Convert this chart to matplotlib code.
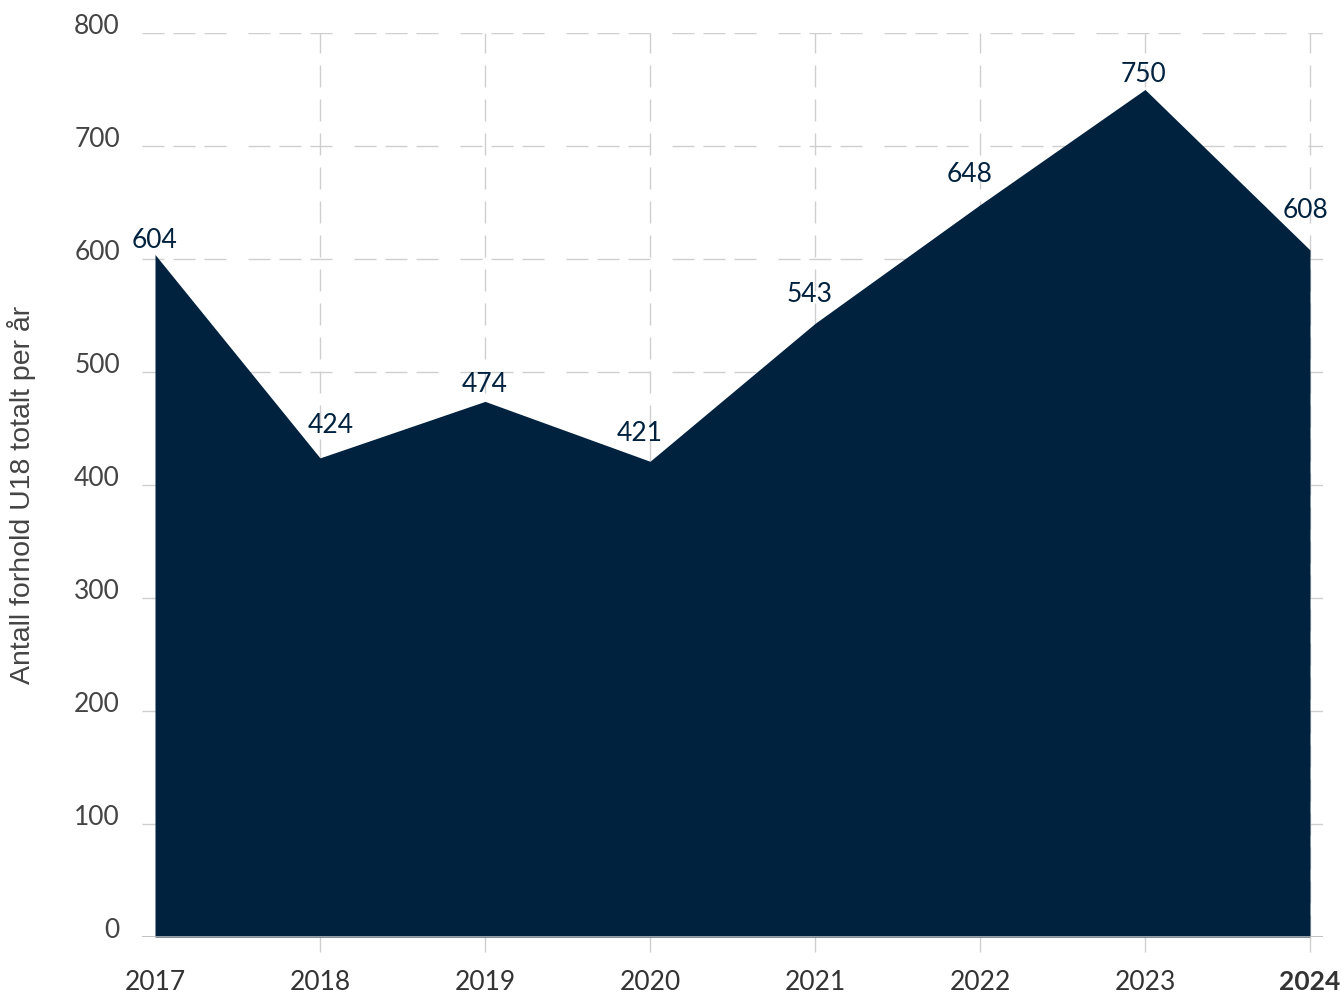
import matplotlib
matplotlib.use("Agg")
import matplotlib.pyplot as plt
from matplotlib import transforms

years = [2017, 2018, 2019, 2020, 2021, 2022, 2023, 2024]
values = [604, 424, 474, 421, 543, 648, 750, 608]
yticks = [0, 100, 200, 300, 400, 500, 600, 700, 800]
ylabel = "Antall forhold U18 totalt per år"

# label placement offsets in pixels (dx, dy above point to baseline)
label_dx = [0, 11, 0, -10, -5.5, -10.5, -2, -4.5]
label_dy = [6.5, 25, 9.5, 20, 21, 23, 7.5, 32]

fill_color = "#01223e"
grid_color = "#cfcfcf"
text_color = "#444444"

plt.rcParams["lines.scale_dashes"] = False
PX = 0.72  # points per pixel at dpi 100
dash_h = [22 * PX, 9 * PX, 22 * PX, 9 * PX, 22 * PX, 22 * PX]
dash_v = [22 * PX, 12 * PX]

fig = plt.figure(figsize=(13.41, 9.94), dpi=100)
ax = fig.add_axes([142/1341, 1 - 937/994, (1323-142)/1341, (937-33)/994])
ax.set_xlim(2017 - 13/165, 2024 + 13/165)
ax.set_ylim(0, 800)

ax.fill_between(years, values, 0, color=fill_color, lw=0, zorder=3)

for y in yticks[1:]:
    ax.axhline(y, color=grid_color, lw=1.0, dashes=dash_h, zorder=0.5)
for x in years[1:]:
    ax.axvline(x, color=grid_color, lw=1.0, dashes=dash_v, zorder=0.5)
ax.axhline(0, color="#b8b8b8", lw=1.2, zorder=4)

for s in ax.spines.values():
    s.set_visible(False)
ax.set_xticks(years[1:])
ax.set_xticklabels([])
ax.set_yticks([])
ax.tick_params(axis="x", length=11, width=1, color=grid_color, direction="out")

fs = 19
for x in years:
    ax.text(x, 0, str(x), transform=ax.transData + transforms.ScaledTranslation(0, -53/100, fig.dpi_scale_trans),
            ha="center", va="baseline", fontsize=fs, family="Lato",
            fontweight="bold" if x == years[-1] else "normal", color="#333333")
for y in yticks:
    ax.text(2017 - 13/165, y, str(y),
            transform=ax.transData + transforms.ScaledTranslation(-22/100, -1/100, fig.dpi_scale_trans),
            ha="right", va="baseline", fontsize=fs, family="Lato", color=text_color)

for x, v, dx, dy in zip(years, values, label_dx, label_dy):
    ax.text(x, v, str(v),
            transform=ax.transData + transforms.ScaledTranslation(dx/100, dy/100, fig.dpi_scale_trans),
            ha="center", va="baseline", fontsize=fs, family="Lato", color=fill_color, zorder=5)

fig.text(22/1341, 1 - 495/994, ylabel, rotation=90, ha="center", va="center",
         fontsize=20.5, family="Liberation Sans", color=text_color)

fig.savefig("out.png", dpi=100)
